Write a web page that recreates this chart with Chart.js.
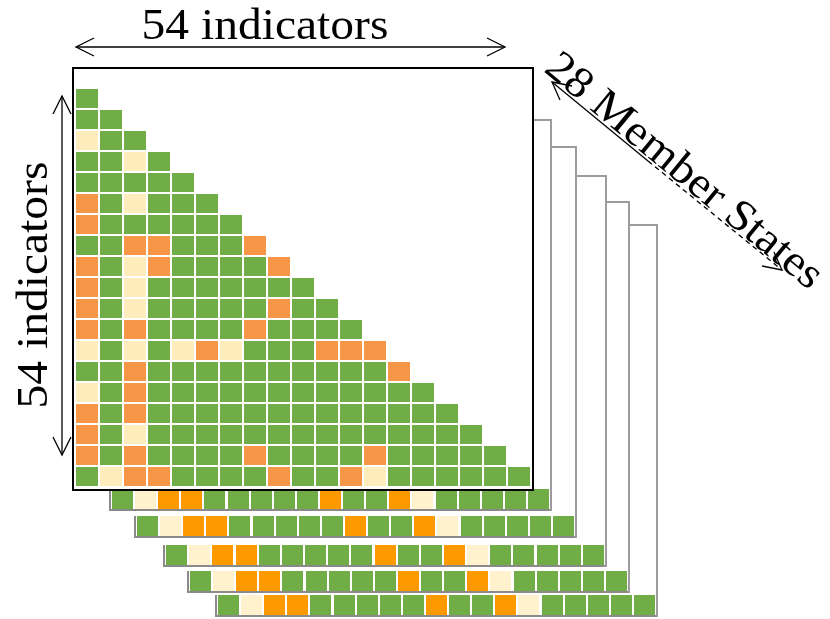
<!DOCTYPE html>
<html>
<head>
<meta charset="utf-8">
<script src="https://cdn.jsdelivr.net/npm/chart.js@4.4.1/dist/chart.umd.min.js"></script>
<style>
  body { margin: 0; width: 830px; height: 619px; position: relative; background: #fff; overflow: hidden;
         font-family: 'Liberation Serif', 'Times New Roman', serif; }
  .page { position: absolute; box-sizing: border-box; background: #fff;
          border-top: 2px solid #9c9c9c; border-right: 2px solid #9c9c9c; }
  .strip { position: absolute; left: 0; bottom: 0; box-sizing: border-box;
           border-left: 2px solid #8a8a8a; border-bottom: 2px solid #8a8a8a; }
  #main { position: absolute; left: 72px; top: 67px; width: 462px; height: 424px;
          box-sizing: border-box; border: 2px solid #000; background: #fff; }
  canvas { position: absolute; display: block; }
  .lbl { position: absolute; width: 340px; height: 44px; line-height: 44px; font-size: 44px;
         text-align: center; white-space: nowrap; color: #000; }
</style>
</head>
<body>
<div id="stack"></div>
<div id="main"></div>
<canvas id="matrixChart" width="456" height="399" style="left:75px;top:88px;width:456px;height:399px"></canvas>

<svg width="830" height="619" style="position:absolute;left:0;top:0;pointer-events:none"
     fill="none" stroke="#000" stroke-width="1.3">
  <line x1="76" y1="47" x2="505" y2="47"/>
  <polyline points="94,38 76,47 94,56"/>
  <polyline points="487,38 505,47 487,56"/>
  <line x1="62" y1="96" x2="62" y2="455"/>
  <polyline points="53,114 62,96 71,114"/>
  <polyline points="53,437 62,455 71,437"/>
  <line x1="552" y1="82" x2="648" y2="161"/>
  <line x1="648" y1="161" x2="782" y2="270" stroke-dasharray="5 4"/>
  <polyline points="560,100 552,82 572,86"/>
  <polyline points="762,266 782,270 774,252"/>
</svg>

<div class="lbl" style="left:95px;top:3px;transform:scaleX(1.08)">54 indicators</div>
<div class="lbl" style="left:-137px;top:263px;transform:rotate(-90deg) scaleX(1.08)">54 indicators</div>
<div class="lbl" style="left:515px;top:148px;transform:rotate(39.5deg) scaleX(1.08)">28 Member States</div>

<script>
// G = green, Y = pale yellow, O = orange; row r of the lower triangle has r + 1 cells
var matrixRows = [
    'G',
    'GG',
    'YGG',
    'GGYG',
    'GGGGG',
    'OGYGGG',
    'OGGGGGG',
    'GGOOGGGO',
    'OGYOGGGGO',
    'OGYGGGGGGG',
    'OGYGGGGGOGG',
    'OGOGGGGOGGGG',
    'YGYGYOYGGGOOO',
    'GGOGGGGGGGGGGO',
    'YGOGGGGGGGGGGGG',
    'OGOGGGGGGGGGGGGG',
    'OGYGGGGGGGGGGGGGG',
    'OGOGGGGOGGGGOGGGGG',
    'GYOOGGGGOGGOYGGGGGG'
];

// bottom row visible on each of the pages stacked behind
var stateRow1 = 'GYOOGGGGGOGGOYGGGGG';
var stateRow2 = 'GYOOGGGGGOGGOYGGGGG';
var stateRow3 = 'GYOOGGGGGOGGOYGGGGG';
var stateRow4 = 'GYOOGGGGGOGGOYGGGGG';
var stateRow5 = 'GYOOGGGGGOGGOYGGGGG';
var stackRows = [stateRow1, stateRow2, stateRow3, stateRow4, stateRow5];

var mainColors = { G: '#70AD47', Y: '#FFECBD', O: '#F79646' };
var stackColors = { G: '#70AD47', Y: '#FFF2CC', O: '#FF9900' };

// page boxes behind the front one: left, top, right, bottom
var pageBoxes = [
    [109, 119, 552, 511],
    [134, 146, 577, 538],
    [163, 175, 607, 567],
    [187, 201, 630, 593],
    [215, 224, 658, 617]
];

function cellImage(color, w, h) {
    var c = document.createElement('canvas');
    c.width = w;
    c.height = h;
    var g = c.getContext('2d');
    g.fillStyle = color;
    g.fillRect(0, 0, w, h);
    return c;
}

function cellChart(canvas, rows, nCols, palette, w, h) {
    var datasets = Object.keys(palette).map(function (code) {
        var pts = [];
        rows.forEach(function (row, r) {
            row.split('').forEach(function (c, col) {
                if (c === code) pts.push({ x: col, y: r });
            });
        });
        return {
            label: code,
            data: pts,
            pointStyle: cellImage(palette[code], w, h),
            pointRadius: 11,
            clip: false
        };
    });
    return new Chart(canvas, {
        type: 'scatter',
        data: { datasets: datasets },
        options: {
            responsive: false,
            animation: false,
            events: [],
            layout: { padding: 0, autoPadding: false },
            plugins: { legend: { display: false }, tooltip: { enabled: false } },
            scales: {
                x: { type: 'linear', min: -0.5, max: nCols - 0.5, display: false },
                y: { type: 'linear', min: -0.5, max: rows.length - 0.5, reverse: true, display: false }
            }
        }
    });
}

// back pages, drawn furthest first so nearer ones cover them
var stack = document.getElementById('stack');
for (var p = pageBoxes.length - 1; p >= 0; p--) {
    var b = pageBoxes[p];
    var page = document.createElement('div');
    page.className = 'page';
    page.style.left = b[0] + 'px';
    page.style.top = b[1] + 'px';
    page.style.width = (b[2] - b[0]) + 'px';
    page.style.height = (b[3] - b[1]) + 'px';
    var strip = document.createElement('div');
    strip.className = 'strip';
    var sw = b[2] - b[0] - 2;
    strip.style.width = sw + 'px';
    strip.style.height = '22px';
    var cv = document.createElement('canvas');
    cv.width = sw - 2;
    cv.height = 20;
    cv.style.left = '0px';
    cv.style.top = '0px';
    cv.style.width = (sw - 2) + 'px';
    cv.style.height = '20px';
    strip.appendChild(cv);
    page.appendChild(strip);
    stack.appendChild(page);
    cellChart(cv, [stackRows[p]], stackRows[p].length, stackColors, 21, 20);
}

cellChart(document.getElementById('matrixChart'), matrixRows, matrixRows.length, mainColors, 22, 19);
</script>
</body>
</html>
